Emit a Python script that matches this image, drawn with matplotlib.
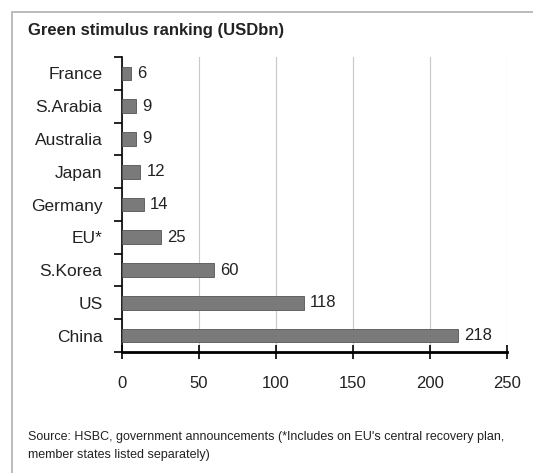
import matplotlib.pyplot as plt
from matplotlib.patches import Rectangle

plt.rcParams["font.family"] = ["Liberation Sans", "DejaVu Sans"]

countries = ["France", "S.Arabia", "Australia", "Japan", "Germany", "EU*", "S.Korea", "US", "China"]
values = [6, 9, 9, 12, 14, 25, 60, 118, 218]
xticks = [0, 50, 100, 150, 200, 250]

fig = plt.figure(figsize=(5.33, 4.73), dpi=100)
fig.patches.append(Rectangle((12 / 533, -0.1), 1.2, 1 - 12 / 473 + 0.1, transform=fig.transFigure,
                             fill=False, edgecolor="#b0b0b0", linewidth=1.2))

ax = fig.add_axes([122 / 533, 1 - 352 / 473, (507 - 122) / 533, (352 - 57) / 473])

pos = list(range(len(countries)))
ax.barh(pos, values, height=0.42, color="#7a7a7a", edgecolor="#555555", linewidth=0.6, zorder=3)
for y, v in zip(pos, values):
    ax.text(v + 4, y, str(v), va="center", ha="left", fontsize=12, color="#222222")

ax.set_ylim(len(countries) - 0.5, -0.5)
ax.set_xlim(0, 250)
ax.set_yticks([p - 0.5 for p in pos] + [len(countries) - 0.5])
ax.set_yticklabels([])
ax.set_yticks(pos, minor=True)
ax.set_yticklabels(countries, minor=True, fontsize=12.5, color="#222222")
ax.tick_params(axis="y", which="minor", length=0, pad=14)
ax.tick_params(axis="y", which="major", length=6, width=1.2, direction="out")
ax.set_xticks(xticks)
ax.set_xticklabels([str(t) for t in xticks], fontsize=12, color="#222222")
ax.tick_params(axis="x", length=10, width=1.2, direction="inout", pad=12)

ax.grid(axis="x", color="#c8c8c8", linewidth=0.8, zorder=0)
for s in ["top", "right"]:
    ax.spines[s].set_visible(False)
ax.spines["left"].set_linewidth(1.2)
ax.spines["bottom"].set_linewidth(2)

fig.text(28 / 533, 1 - 31 / 473, "Green stimulus ranking (USDbn)", fontsize=12,
         fontweight="bold", color="#222222", va="center")
fig.text(28 / 533, 1 - 437 / 473,
         "Source: HSBC, government announcements (*Includes on EU's central recovery plan,",
         fontsize=9, color="#222222", va="center")
fig.text(28 / 533, 1 - 455 / 473, "member states listed separately)",
         fontsize=9, color="#222222", va="center")

fig.savefig("out.png", dpi=100)
